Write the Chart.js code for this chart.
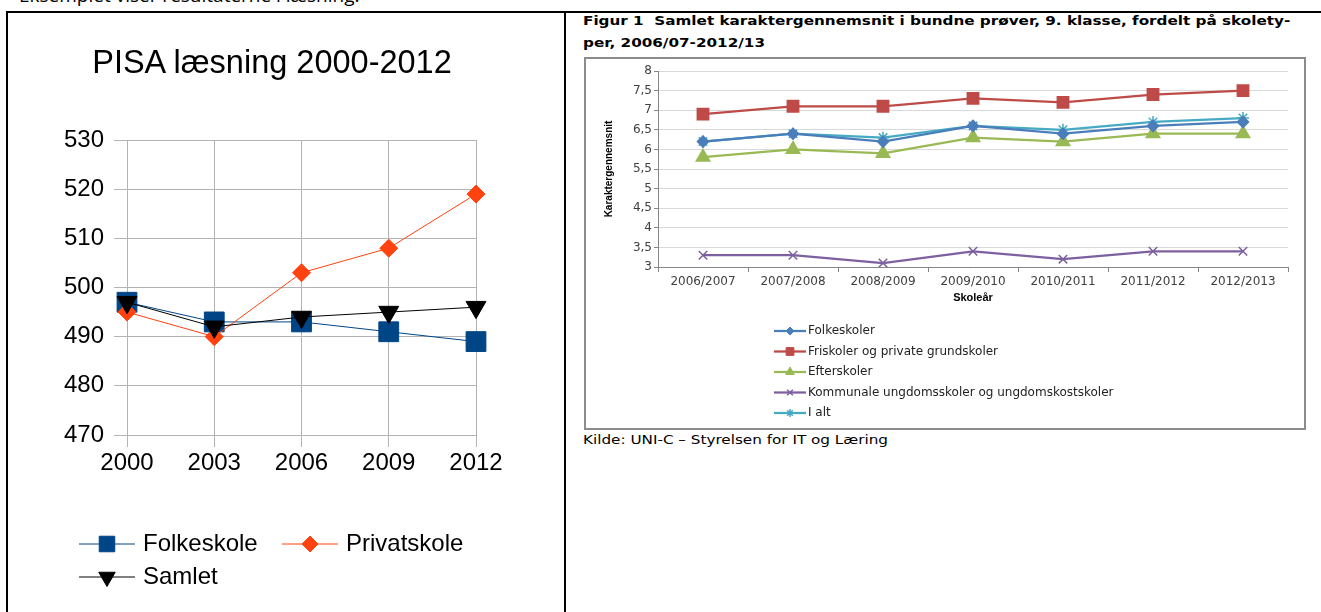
<!DOCTYPE html>
<html lang="da">
<head>
<meta charset="utf-8">
<title>PISA læsning og karaktergennemsnit</title>
<script src="https://cdn.jsdelivr.net/npm/chart.js@4.4.1/dist/chart.umd.min.js"></script>
<style>
  html, body { margin: 0; padding: 0; background: #fff; }
  body { width: 1321px; height: 612px; position: relative; overflow: hidden; }
  .intro { position: absolute; left: 19px; top: -14px; font: 19px/19px "Open Sans", sans-serif; color: #000; white-space: nowrap; }
  .hline { position: absolute; left: 6px; top: 11px; width: 1315px; height: 2px; background: #000; }
  .vline { position: absolute; top: 11px; width: 2px; height: 601px; background: #000; }
  #pisaChart { position: absolute; left: 9px; top: 14px; }
  .pisatitle { position: absolute; left: 9px; width: 526px; top: 43px; text-align: center; font: 32.5px/38px "Liberation Sans", sans-serif; color: #000; white-space: nowrap; }
  .stretch { transform-origin: 0 0; transform: scaleX(1.17); }
  .figtitle { position: absolute; left: 583px; top: 10px; font: bold 13px/22px "DejaVu Sans", sans-serif; color: #000; white-space: nowrap; }
  .figbox { position: absolute; left: 584px; top: 57px; width: 718px; height: 369px; border: 2px solid #8c8c8c; background: #fff; }
  .kilde { position: absolute; left: 583px; top: 431px; font: 13px/18px "DejaVu Sans", sans-serif; color: #000; white-space: nowrap; }
</style>
</head>
<body>
<div class="intro">Eksemplet viser resultaterne i læsning.</div>
<div class="hline"></div>
<div class="vline" style="left:6px"></div>
<div class="vline" style="left:564px"></div>

<canvas id="pisaChart" width="526" height="598"></canvas>
<div class="pisatitle">PISA læsning 2000-2012</div>

<div class="figtitle stretch">Figur 1&nbsp; Samlet karaktergennemsnit i bundne prøver, 9. klasse, fordelt på skolety-<br>per, 2006/07-2012/13</div>
<div class="figbox"><canvas id="figChart" width="718" height="369"></canvas></div>
<div class="kilde stretch">Kilde: UNI-C – Styrelsen for IT og Læring</div>

<script>
// venstre figur: PISA læsning
const pisaAar = ['2000', '2003', '2006', '2009', '2012'];
const folkeskole = [497, 493, 493, 491, 489];
const privatskole = [495, 490, 503, 508, 519];
const samlet = [497, 492, 494, 495, 496];

// højre figur: karaktergennemsnit
const skoleaar = ['2006/2007', '2007/2008', '2008/2009', '2009/2010', '2010/2011', '2011/2012', '2012/2013'];
const folkeskoler = [6.2, 6.4, 6.2, 6.6, 6.4, 6.6, 6.7];
const friskoler = [6.9, 7.1, 7.1, 7.3, 7.2, 7.4, 7.5];
const efterskoler = [5.8, 6.0, 5.9, 6.3, 6.2, 6.4, 6.4];
const kommunale = [3.3, 3.3, 3.1, 3.4, 3.2, 3.4, 3.4];
const iAlt = [6.2, 6.4, 6.3, 6.6, 6.5, 6.7, 6.8];

// legend with a short line and the marker on it
const lineLegend = {
  id: 'lineLegend',
  afterDraw(chart, args, opts) {
    const ctx = chart.ctx;
    ctx.save();
    ctx.font = opts.font;
    ctx.textBaseline = 'middle';
    opts.items.forEach(item => {
      const ds = chart.data.datasets[item.index];
      ctx.strokeStyle = ds.borderColor;
      ctx.lineWidth = ds.borderWidth;
      ctx.beginPath();
      ctx.moveTo(item.x, item.y);
      ctx.lineTo(item.x + opts.lineLength, item.y);
      ctx.stroke();
      ctx.fillStyle = ds.pointBackgroundColor;
      ctx.strokeStyle = ds.pointBorderColor;
      ctx.lineWidth = ds.pointBorderWidth || 1;
      Chart.helpers.drawPoint(ctx, {
        pointStyle: ds.pointStyle,
        radius: item.radius,
        rotation: ds.pointRotation || 0,
        borderWidth: ds.pointBorderWidth || 1
      }, item.x + opts.lineLength / 2, item.y);
      ctx.fillStyle = opts.color;
      ctx.fillText(ds.label, item.x + opts.lineLength + opts.gap, item.y);
    });
    ctx.restore();
  }
};

function serie(label, data, color, style, radius, extra) {
  return Object.assign({
    label: label,
    data: data,
    borderColor: color,
    backgroundColor: color,
    pointBackgroundColor: color,
    pointBorderColor: color,
    pointStyle: style,
    pointRadius: radius,
    pointHoverRadius: radius,
    borderWidth: 1,
    tension: 0
  }, extra || {});
}

new Chart(document.getElementById('pisaChart'), {
  type: 'line',
  data: {
    labels: pisaAar,
    datasets: [
      serie('Folkeskole', folkeskole, '#004586', 'rect', 14, { order: 2 }),
      serie('Privatskole', privatskole, '#ff420e', 'rectRot', 9, { order: 1 }),
      serie('Samlet', samlet, '#000000', 'triangle', 11.5, { order: 0, pointRotation: 180 })
    ]
  },
  options: {
    responsive: false,
    animation: false,
    devicePixelRatio: 1,
    font: { family: 'Liberation Sans' },
    layout: { padding: { top: 126, right: 59, bottom: 117, left: 0 } },
    plugins: {
      legend: { display: false },
      tooltip: { enabled: false },
      lineLegend: {
        font: '24px "Liberation Sans"',
        color: '#000',
        lineLength: 56,
        gap: 8,
        items: [
          { index: 0, x: 70, y: 530, radius: 11 },
          { index: 1, x: 273, y: 530, radius: 8 },
          { index: 2, x: 70, y: 563, radius: 9.5 }
        ]
      }
    },
    scales: {
      x: {
        grid: { color: '#b3b3b3', tickColor: '#b3b3b3', tickLength: 12 },
        border: { display: false },
        ticks: { color: '#000', padding: 2, font: { family: 'Liberation Sans', size: 24 } },
        afterFit: s => { s.height = 60; }
      },
      y: {
        min: 470,
        max: 530,
        grid: { color: '#b3b3b3', tickColor: '#b3b3b3', tickLength: 13 },
        border: { display: false },
        ticks: { stepSize: 10, color: '#000', padding: 10, font: { family: 'Liberation Sans', size: 24 } },
        afterFit: s => { s.width = 118; }
      }
    }
  },
  plugins: [lineLegend]
});

new Chart(document.getElementById('figChart'), {
  type: 'line',
  data: {
    labels: skoleaar,
    datasets: [
      serie('Folkeskoler', folkeskoler, '#4a7ebb', 'rectRot', 5, { borderWidth: 2.25 }),
      serie('Friskoler og private grundskoler', friskoler, '#be4b48', 'rect', 7.5, { borderWidth: 2.25 }),
      serie('Efterskoler', efterskoler, '#98b954', 'triangle', 7, { borderWidth: 2.25 }),
      serie('Kommunale ungdomsskoler og ungdomskostskoler', kommunale, '#7d60a0', 'crossRot', 6, { borderWidth: 2.25, pointBorderWidth: 1.5 }),
      serie('I alt', iAlt, '#46aac5', 'star', 6, { borderWidth: 2.25, pointBorderWidth: 1.5 })
    ]
  },
  options: {
    responsive: false,
    animation: false,
    devicePixelRatio: 1,
    layout: { padding: { top: 12, right: 16, bottom: 121, left: 0 } },
    plugins: {
      legend: { display: false },
      tooltip: { enabled: false },
      lineLegend: {
        font: '12px "DejaVu Sans"',
        color: '#222',
        lineLength: 32,
        gap: 2,
        items: [
          { index: 0, x: 188, y: 272, radius: 4 },
          { index: 1, x: 188, y: 292.5, radius: 5.5 },
          { index: 2, x: 188, y: 313, radius: 5 },
          { index: 3, x: 188, y: 333.5, radius: 4 },
          { index: 4, x: 188, y: 354, radius: 4 }
        ]
      }
    },
    scales: {
      x: {
        offset: true,
        grid: { offset: true, drawOnChartArea: false, tickLength: 5, color: '#868686' },
        border: { color: '#868686' },
        ticks: { padding: 3, color: '#404040', font: { family: 'DejaVu Sans', size: 12 } },
        title: {
          display: true,
          text: 'Skoleår',
          color: '#000',
          font: { family: 'Liberation Sans', size: 11, weight: 'bold' },
          padding: { top: 0, bottom: 2.4 }
        },
        afterFit: s => { s.height = 40; }
      },
      y: {
        min: 3,
        max: 8,
        grid: { color: '#d9d9d9', tickColor: '#868686', tickLength: 4 },
        border: { color: '#868686' },
        ticks: {
          stepSize: 0.5,
          padding: 2,
          color: '#404040',
          font: { family: 'DejaVu Sans', size: 12 },
          callback: v => String(v).replace('.', ',')
        },
        title: {
          display: true,
          text: 'Karaktergennemsnit',
          color: '#000',
          font: { family: 'Liberation Sans', size: 10, weight: 'bold' },
          padding: { top: 17.4, bottom: 0 }
        },
        afterFit: s => { s.width = 72; }
      }
    }
  },
  plugins: [lineLegend]
});
</script>
</body>
</html>
